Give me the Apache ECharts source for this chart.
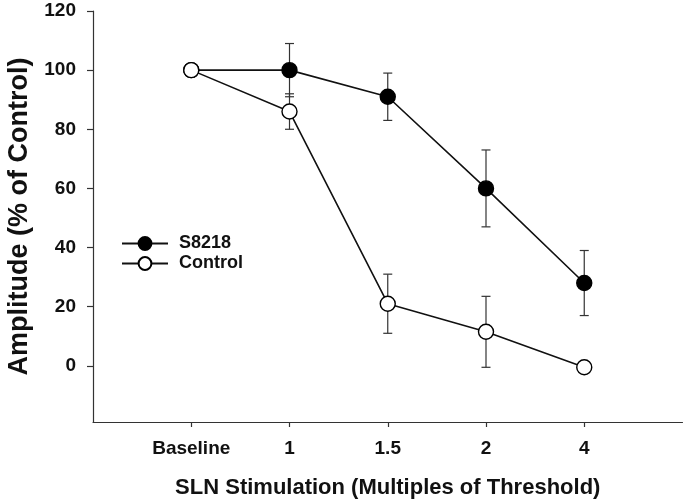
<!DOCTYPE html>
<html>
<head>
<meta charset="utf-8">
<script src="https://cdn.jsdelivr.net/npm/echarts@6/dist/echarts.min.js"></script>
<style>html,body{margin:0;padding:0;background:#fff}#c{width:685px;height:500px}</style>
</head>
<body>
<div id="c"></div>
<script>
const categories = ['Baseline', '1', '1.5', '2', '4'];
const s8218 = [100, 100, 91, 60, 28];
const s8218Err = [0, 9, 8, 13, 11];
const control = [100, 86, 21, 11.5, -0.5];
const controlErr = [0, 6, 10, 12, 0];
const yTicks = [0, 20, 40, 60, 80, 100, 120];
const xTicks = categories.map((c, i) => i);

const font = 'Liberation Sans, Arial, sans-serif';
const ink = '#111';

function pts(vals) { return vals.map((v, i) => [i, v]); }
function errData(vals, errs) { return vals.map((v, i) => [i, v, errs[i]]); }

function errRender(params, api) {
  const x = api.value(0), y = api.value(1), e = api.value(2);
  if (!e) return null;
  const top = api.coord([x, y + e]);
  const bot = api.coord([x, y - e]);
  const hw = 4.5;
  const st = { stroke: '#333', lineWidth: 1.2 };
  return {
    type: 'group',
    children: [
      { type: 'line', shape: { x1: top[0], y1: top[1], x2: bot[0], y2: bot[1] }, style: st },
      { type: 'line', shape: { x1: top[0] - hw, y1: top[1], x2: top[0] + hw, y2: top[1] }, style: st },
      { type: 'line', shape: { x1: bot[0] - hw, y1: bot[1], x2: bot[0] + hw, y2: bot[1] }, style: st }
    ]
  };
}

const chart = echarts.init(document.getElementById('c'), null, { renderer: 'canvas' });
chart.setOption({
  animation: false,
  backgroundColor: '#fff',
  grid: { left: 93, right: 2.5, top: 11, bottom: 78, containLabel: false, outerBoundsMode: 'none' },
  legend: {
    orient: 'vertical', left: 116, top: 229.5, itemGap: 2,
    itemWidth: 46, itemHeight: 16,
    data: ['S8218', 'Control'],
    textStyle: { fontFamily: font, fontWeight: 'bold', fontSize: 18, color: ink, padding: [0, 0, 0, 6] }
  },
  xAxis: {
    type: 'value', min: -1, max: 5,
    splitLine: { show: false },
    axisLine: { onZero: false, lineStyle: { color: '#333', width: 1.2 } },
    axisTick: { show: true, length: 5, customValues: xTicks, lineStyle: { color: '#333', width: 1.2 } },
    axisLabel: {
      customValues: xTicks, margin: 17,
      formatter: v => categories[Math.round(v)] || '',
      fontFamily: font, fontWeight: 'bold', fontSize: 19, color: ink
    },
    name: 'SLN Stimulation (Multiples of Threshold)',
    nameLocation: 'middle', nameGap: 55,
    nameTextStyle: { fontFamily: font, fontWeight: 'bold', fontSize: 22, color: ink }
  },
  yAxis: {
    type: 'value', min: -19, max: 120,
    splitLine: { show: false },
    axisLine: { show: true, onZero: false, lineStyle: { color: '#333', width: 1.2 } },
    axisTick: { show: true, length: 6, customValues: yTicks, lineStyle: { color: '#333', width: 1.2 } },
    axisLabel: {
      customValues: yTicks, margin: 17,
      fontFamily: font, fontWeight: 'bold', fontSize: 19, color: ink
    },
    name: 'Amplitude (% of Control)',
    nameLocation: 'middle', nameGap: 59,
    nameTextStyle: { fontFamily: font, fontWeight: 'bold', fontSize: 27, color: ink }
  },
  series: [
    {
      type: 'custom', name: 'errS', renderItem: errRender, z: 1,
      data: errData(s8218, s8218Err), silent: true
    },
    {
      type: 'custom', name: 'errC', renderItem: errRender, z: 1,
      data: errData(control, controlErr), silent: true
    },
    {
      type: 'line', name: 'S8218', data: pts(s8218), z: 3,
      symbol: 'circle', symbolSize: 15,
      lineStyle: { color: '#111', width: 1.6 },
      itemStyle: { color: '#000', borderColor: '#000', borderWidth: 1.4 }
    },
    {
      type: 'line', name: 'Control', data: pts(control), z: 4,
      symbol: 'circle', symbolSize: 15,
      lineStyle: { color: '#111', width: 1.6 },
      itemStyle: { color: '#fff', borderColor: '#000', borderWidth: 1.4 }
    }
  ]
});
</script>
</body>
</html>
